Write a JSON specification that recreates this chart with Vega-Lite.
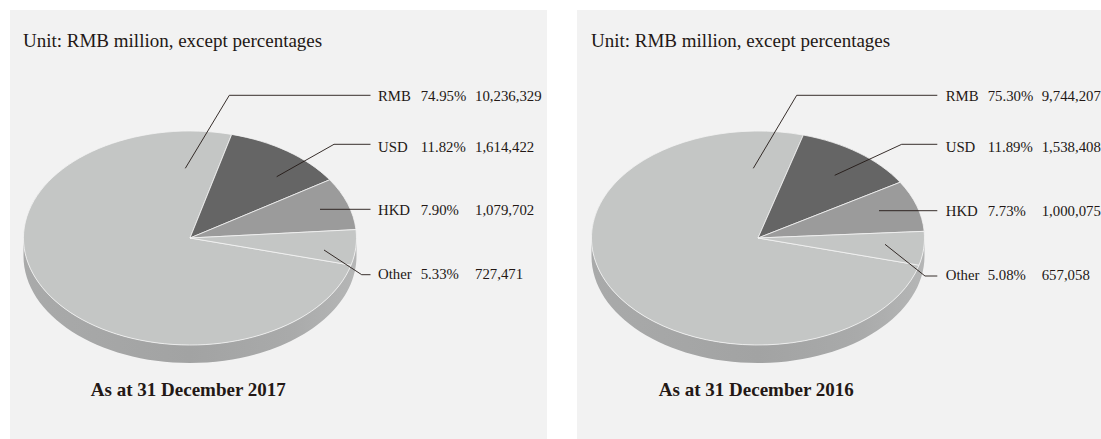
{"$schema":"https://vega.github.io/schema/vega-lite/v6.json","padding":{"left":10,"top":10,"right":0,"bottom":0},"background":"#ffffff","spacing":30,"config":{"view":{"stroke":null,"fill":"#f2f2f2"},"axis":{"domain":false,"ticks":false,"labels":false,"title":null,"grid":false},"text":{"font":"Liberation Serif","color":"#231815","align":"left","baseline":"alphabetic"}},"hconcat":[
{"width":537,"height":429,"data":{"values":[{"currency":"RMB","share":74.95,"amount":10236329,"shareText":"74.95%","amountText":"10,236,329"},{"currency":"USD","share":11.82,"amount":1614422,"shareText":"11.82%","amountText":"1,614,422"},{"currency":"HKD","share":7.90,"amount":1079702,"shareText":"7.90%","amountText":"1,079,702"},{"currency":"Other","share":5.33,"amount":727471,"shareText":"5.33%","amountText":"727,471"}]},
"layer":[
{"layer":[
{"transform":[{"filter":"datum.currency==='RMB'"}],"mark":{"type":"point","filled":true,"opacity":1,"size":4,"strokeWidth":0,"shape":"M-166.5 0A166.5 107 0 0 0 166.5 0L166.5 18A166.5 107 0 0 1 -166.5 18Z","fill":{"gradient":"linear","x1":0,"x2":1,"y1":0,"y2":0,"stops":[{"offset":0,"color":"#a9aaaa"},{"offset":0.5,"color":"#a2a3a3"},{"offset":0.8,"color":"#a9aaaa"},{"offset":1,"color":"#b5b6b6"}]}}},
{"mark":{"type":"point","filled":true,"opacity":1,"size":4,"stroke":"#f4f4f4","strokeWidth":0.8},"encoding":{"fill":{"field":"currency","type":"nominal","legend":null,"scale":{"domain":["RMB","USD","HKD","Other"],"range":["#c4c6c5","#656565","#9b9b9b","#c4c6c5"]}},"shape":{"field":"currency","type":"nominal","legend":null,"scale":{"domain":["RMB","USD","HKD","Other"],"range":["M0 0L161.05 27.11A166.5 107 0 1 1 41.69 -103.59Z","M0 0L41.69 -103.59A166.5 107 0 0 1 139.69 -58.22Z","M0 0L139.69 -58.22A166.5 107 0 0 1 165.98 -8.41Z","M0 0L165.98 -8.41A166.5 107 0 0 1 161.05 27.11Z"]}}}},
{"mark":{"type":"point","filled":false,"opacity":1,"size":4,"stroke":"#231815","strokeWidth":0.9},"encoding":{"shape":{"field":"currency","type":"nominal","legend":null,"scale":{"domain":["RMB","USD","HKD","Other"],"range":["M-4.7 -69.7L39.3 -142.7L180.5 -142.7","M86.7 -61.3L144 -93.7L180.5 -93.7","M130 -28.7L180.5 -28.7","M134 12L171.7 36.7L180.5 36.7"]}}}}
],"encoding":{"x":{"datum":180,"scale":{"domain":[0,537]},"axis":null},"y":{"datum":228,"scale":{"domain":[429,0]},"axis":null}},"resolve":{"scale":{"shape":"independent"}}},
{"layer":[
{"mark":{"type":"text","fontSize":14.8,"dy":{"expr":"{RMB:0,USD:-8.3,HKD:-4.7,Other:0}[datum.currency]"}},"encoding":{"x":{"datum":368,"scale":{"domain":[0,537]},"axis":null},"text":{"field":"currency"}}},
{"mark":{"type":"text","fontSize":14.8,"dy":{"expr":"{RMB:0,USD:-8.3,HKD:-4.7,Other:0}[datum.currency]"}},"encoding":{"x":{"datum":410.7,"scale":{"domain":[0,537]},"axis":null},"text":{"field":"shareText"}}},
{"mark":{"type":"text","fontSize":14.8,"dy":{"expr":"{RMB:0,USD:-8.3,HKD:-4.7,Other:0}[datum.currency]"}},"encoding":{"x":{"datum":465,"scale":{"domain":[0,537]},"axis":null},"text":{"field":"amountText"}}}
],"encoding":{"y":{"field":"currency","type":"nominal","axis":null,"sort":null,"scale":{"type":"point","domain":["RMB","USD","HKD","Other"],"range":[91,269],"padding":0}}}},
{"layer":[
{"data":{"values":[{"note":"Unit: RMB million, except percentages"}]},"mark":{"type":"text","fontSize":19},"encoding":{"x":{"datum":13,"scale":{"domain":[0,537]},"axis":null},"y":{"datum":37,"scale":{"domain":[429,0]},"axis":null},"text":{"field":"note"}}},
{"data":{"values":[{"note":"As at 31 December 2017"}]},"mark":{"type":"text","fontSize":19,"fontWeight":"bold","align":"center"},"encoding":{"x":{"datum":178.3,"scale":{"domain":[0,537]},"axis":null},"y":{"datum":385.7,"scale":{"domain":[429,0]},"axis":null},"text":{"field":"note"}}}
]}
],"resolve":{"scale":{"y":"independent"}}},
{"width":524,"height":429,"data":{"values":[{"currency":"RMB","share":75.30,"amount":9744207,"shareText":"75.30%","amountText":"9,744,207"},{"currency":"USD","share":11.89,"amount":1538408,"shareText":"11.89%","amountText":"1,538,408"},{"currency":"HKD","share":7.73,"amount":1000075,"shareText":"7.73%","amountText":"1,000,075"},{"currency":"Other","share":5.08,"amount":657058,"shareText":"5.08%","amountText":"657,058"}]},
"layer":[
{"layer":[
{"transform":[{"filter":"datum.currency==='RMB'"}],"mark":{"type":"point","filled":true,"opacity":1,"size":4,"strokeWidth":0,"shape":"M-166.5 0A166.5 107 0 0 0 166.5 0L166.5 18A166.5 107 0 0 1 -166.5 18Z","fill":{"gradient":"linear","x1":0,"x2":1,"y1":0,"y2":0,"stops":[{"offset":0,"color":"#a9aaaa"},{"offset":0.5,"color":"#a2a3a3"},{"offset":0.8,"color":"#a9aaaa"},{"offset":1,"color":"#b5b6b6"}]}}},
{"mark":{"type":"point","filled":true,"opacity":1,"size":4,"stroke":"#f4f4f4","strokeWidth":0.8},"encoding":{"fill":{"field":"currency","type":"nominal","legend":null,"scale":{"domain":["RMB","USD","HKD","Other"],"range":["#c4c6c5","#656565","#9b9b9b","#c4c6c5"]}},"shape":{"field":"currency","type":"nominal","legend":null,"scale":{"domain":["RMB","USD","HKD","Other"],"range":["M0 0L161.04 27.19A166.5 107 0 1 1 45.33 -102.95Z","M0 0L45.33 -102.95A166.5 107 0 0 1 142.12 -55.75Z","M0 0L142.12 -55.75A166.5 107 0 0 1 166.18 -6.66Z","M0 0L166.18 -6.66A166.5 107 0 0 1 161.04 27.19Z"]}}}},
{"mark":{"type":"point","filled":false,"opacity":1,"size":4,"stroke":"#231815","strokeWidth":0.9},"encoding":{"shape":{"field":"currency","type":"nominal","legend":null,"scale":{"domain":["RMB","USD","HKD","Other"],"range":["M-4.7 -69.7L38.7 -142.7L179.3 -142.7","M76.7 -62.7L143.7 -93.7L179.3 -93.7","M121 -27.3L179.3 -27.3","M127 6.3L167 38L179.3 38"]}}}}
],"encoding":{"x":{"datum":181,"scale":{"domain":[0,524]},"axis":null},"y":{"datum":228,"scale":{"domain":[429,0]},"axis":null}},"resolve":{"scale":{"shape":"independent"}}},
{"layer":[
{"mark":{"type":"text","fontSize":14.8,"dy":{"expr":"{RMB:0,USD:-8.67,HKD:-4.33,Other:0}[datum.currency]"}},"encoding":{"x":{"datum":368.7,"scale":{"domain":[0,524]},"axis":null},"text":{"field":"currency"}}},
{"mark":{"type":"text","fontSize":14.8,"dy":{"expr":"{RMB:0,USD:-8.67,HKD:-4.33,Other:0}[datum.currency]"}},"encoding":{"x":{"datum":410.7,"scale":{"domain":[0,524]},"axis":null},"text":{"field":"shareText"}}},
{"mark":{"type":"text","fontSize":14.8,"dy":{"expr":"{RMB:0,USD:-8.67,HKD:-4.33,Other:0}[datum.currency]"}},"encoding":{"x":{"datum":464.7,"scale":{"domain":[0,524]},"axis":null},"text":{"field":"amountText"}}}
],"encoding":{"y":{"field":"currency","type":"nominal","axis":null,"sort":null,"scale":{"type":"point","domain":["RMB","USD","HKD","Other"],"range":[91,270],"padding":0}}}},
{"layer":[
{"data":{"values":[{"note":"Unit: RMB million, except percentages"}]},"mark":{"type":"text","fontSize":19},"encoding":{"x":{"datum":14,"scale":{"domain":[0,524]},"axis":null},"y":{"datum":37,"scale":{"domain":[429,0]},"axis":null},"text":{"field":"note"}}},
{"data":{"values":[{"note":"As at 31 December 2016"}]},"mark":{"type":"text","fontSize":19,"fontWeight":"bold","align":"center"},"encoding":{"x":{"datum":179.3,"scale":{"domain":[0,524]},"axis":null},"y":{"datum":385.7,"scale":{"domain":[429,0]},"axis":null},"text":{"field":"note"}}}
]}
],"resolve":{"scale":{"y":"independent"}}}
],"autosize":{"type":"pad","resize":false,"contains":"content"}}
